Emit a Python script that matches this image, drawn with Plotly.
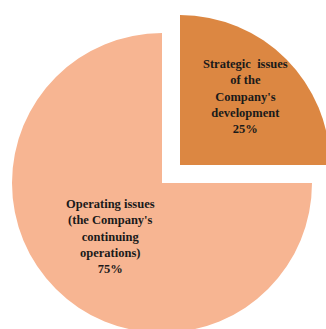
import plotly.graph_objects as go

# shares of the two groups of issues (%)
labels = ["Strategic  issues<br>of the<br>Company's<br>development",
          "Operating issues<br>(the Company's<br>continuing<br>operations)"]
shares = [25, 75]
colors = ["#DC8742", "#F7B592"]

W, H = 360, 360  # figure is a bit larger than the window; the page crops it


def dom(cx, cy, r):
    return dict(x=[(cx - r) / W, (cx + r) / W], y=[1 - (cy + r) / H, 1 - (cy - r) / H])


fig = go.Figure()

# big slice (not pulled)
fig.add_trace(go.Pie(
    values=shares, sort=False, direction="clockwise", rotation=0,
    marker=dict(colors=["rgba(0,0,0,0)", colors[1]], line=dict(width=0)),
    textinfo="none", hoverinfo="skip", showlegend=False,
    domain=dom(162, 183, 150),
))
# small slice, pulled out to the upper right
fig.add_trace(go.Pie(
    values=shares, sort=False, direction="clockwise", rotation=0,
    marker=dict(colors=[colors[0], "rgba(0,0,0,0)"], line=dict(width=0)),
    textinfo="none", hoverinfo="skip", showlegend=False,
    domain=dom(180, 165, 150),
))

label_pos = [(245, 97), (110, 236)]
for lab, val, (x, y) in zip(labels, shares, label_pos):
    fig.add_annotation(
        text=f"<b>{lab}<br>{val}%</b>", x=x / W, y=1 - y / H,
        xref="paper", yref="paper", xanchor="center", yanchor="middle",
        showarrow=False, align="center",
        font=dict(family="Liberation Serif", size=12.5, color="#1a1a1a"),
    )

fig.update_layout(
    width=W, height=H, margin=dict(l=0, r=0, t=0, b=0),
    paper_bgcolor="white", plot_bgcolor="white",
)

fig.write_html(
    "out.html",
    config={"displayModeBar": False},
    post_script="document.body.style.margin='0';document.body.style.overflow='hidden';"
                "document.documentElement.style.overflow='hidden';",
)
